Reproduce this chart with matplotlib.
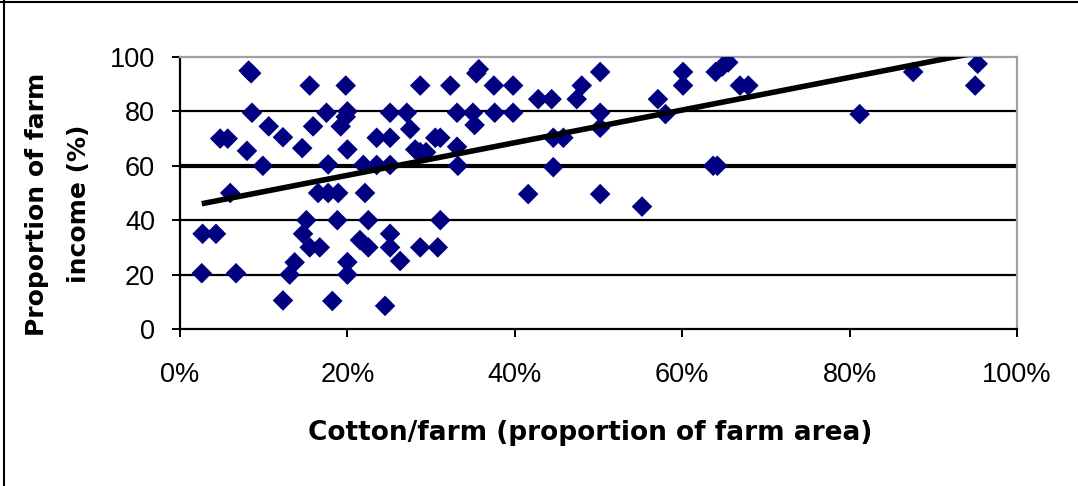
import matplotlib
matplotlib.use("Agg")
import matplotlib.pyplot as plt
from matplotlib.lines import Line2D
import numpy as np

# ---- data ----
cotton_pct = [
    2.6, 2.7, 4.3, 6.7, 4.8, 5.7, 6.0, 8.2, 8.5, 8.6, 8.0, 9.9, 10.6, 12.3, 12.3,
    13.1, 13.7, 14.6, 15.5, 15.9, 15.1, 14.7, 15.5, 16.7, 16.5, 17.7, 18.9, 17.5,
    17.7, 18.8, 18.2, 19.2, 19.8, 19.8, 20.0, 20.0, 20.0, 20.0,
    21.9, 23.5, 25.1, 23.5, 25.1, 25.1, 22.1, 22.5, 21.5, 22.5, 25.1, 25.1, 26.3,
    24.5, 27.1, 27.5, 28.1, 28.7, 29.4, 28.7, 28.7, 30.8, 31.1, 30.5, 31.1, 32.3,
    33.1, 33.1, 33.2, 35.0, 35.4, 35.7, 35.2, 37.5, 37.6, 39.8, 39.8, 41.6, 42.8,
    44.4, 47.4, 48.0, 44.6, 45.8, 44.6, 50.2, 50.2, 50.2, 50.2, 55.2, 57.1, 58.0,
    60.1, 60.1, 63.7, 64.2, 64.0, 64.8, 65.5, 66.9, 67.9, 81.2, 87.6, 95.3, 95.0,
]
income_pct = [
    20.5, 35, 35, 20.5, 70, 70, 50, 95, 94, 79.5, 65.5, 60, 74.5, 70.5, 10.5,
    20, 24.5, 66.5, 89.5, 74.5, 40, 35, 30, 30, 50, 50, 50, 79.5,
    60.5, 40, 10.3, 74.5, 78, 89.5, 80, 66, 24.6, 20,
    60.3, 60.3, 60.3, 70.3, 70.3, 79.5, 50, 40, 32.7, 30, 35, 30, 25,
    8.5, 79.5, 73.5, 66, 65, 65, 89.5, 30, 30, 40, 70.3, 70.3, 89.5,
    79.5, 67, 60, 79.5, 94, 95.5, 75, 89.5, 79.5, 89.5, 79.5, 49.6, 84.5,
    84.5, 84.5, 89.5, 70.3, 70.3, 59.5, 94.5, 79.5, 74, 49.6, 45, 84.5, 79,
    94.5, 89.5, 60, 60, 94.5, 96.5, 98, 89.5, 89.5, 79, 94.5, 97.5, 89.5,
]
trend_intercept = 44.5   # linear trendline
trend_slope = 0.60

x_ticks = [0, 20, 40, 60, 80, 100]
x_tick_labels = ["0%", "20%", "40%", "60%", "80%", "100%"]
y_ticks = [0, 20, 40, 60, 80, 100]
y_tick_labels = ["0", "20", "40", "60", "80", "100"]

# ---- figure ----
W, H = 1078, 486
fig = plt.figure(figsize=(W / 100, H / 100), dpi=100)
fig.patch.set_facecolor("white")

L, R, T, B = 180, 1017, 57, 329
ax = fig.add_axes([L / W, 1 - B / H, (R - L) / W, (B - T) / H])
ax.set_xlim(0, 100)
ax.set_ylim(0, 100)

# gridlines
for yv in y_ticks[1:-1]:
    ax.axhline(yv, color="black", lw=3.0 if yv == 60 else 1.6, zorder=1)

ax.scatter(cotton_pct, income_pct, marker="D", s=110, color="#000080",
           edgecolors="none", zorder=3)

tx = np.array([min(cotton_pct), max(cotton_pct)])
ax.plot(tx, trend_intercept + trend_slope * tx, color="black", lw=4.0,
        zorder=4, solid_capstyle="butt")

for s in ["top", "right"]:
    ax.spines[s].set_color("#a0a0a0")
    ax.spines[s].set_linewidth(1.6)
for s in ["left", "bottom"]:
    ax.spines[s].set_color("black")
    ax.spines[s].set_linewidth(1.6)

tick_font = ["Liberation Sans", "DejaVu Sans"]
ax.set_xticks(x_ticks)
ax.set_xticklabels(x_tick_labels, fontsize=19.5, family=tick_font)
ax.set_yticks(y_ticks)
ax.set_yticklabels(y_tick_labels, fontsize=19.5, family=tick_font)
ax.tick_params(axis="x", direction="out", length=6, width=1.4, pad=18)
ax.tick_params(axis="y", direction="out", length=6, width=1.4, pad=12)

label_font = ["DejaVu Sans"]
fig.text(58 / W, 1 - 204 / H, "Proportion of farm\nincome (%)", rotation=90,
         ha="center", va="center", fontsize=18, fontweight="bold",
         family=label_font, linespacing=1.9, multialignment="center")
fig.text(590 / W, 1 - 433 / H, "Cotton/farm (proportion of farm area)",
         ha="center", va="center", fontsize=19, fontweight="bold",
         family=label_font)

# outer chart border (top and left visible in reference)
fig.add_artist(Line2D([0, 1], [1 - 2 / H, 1 - 2 / H], transform=fig.transFigure,
                      color="black", lw=1.5))
fig.add_artist(Line2D([4 / W, 4 / W], [0, 1], transform=fig.transFigure,
                      color="black", lw=1.5))

fig.savefig("out.png", dpi=100, facecolor="white")
